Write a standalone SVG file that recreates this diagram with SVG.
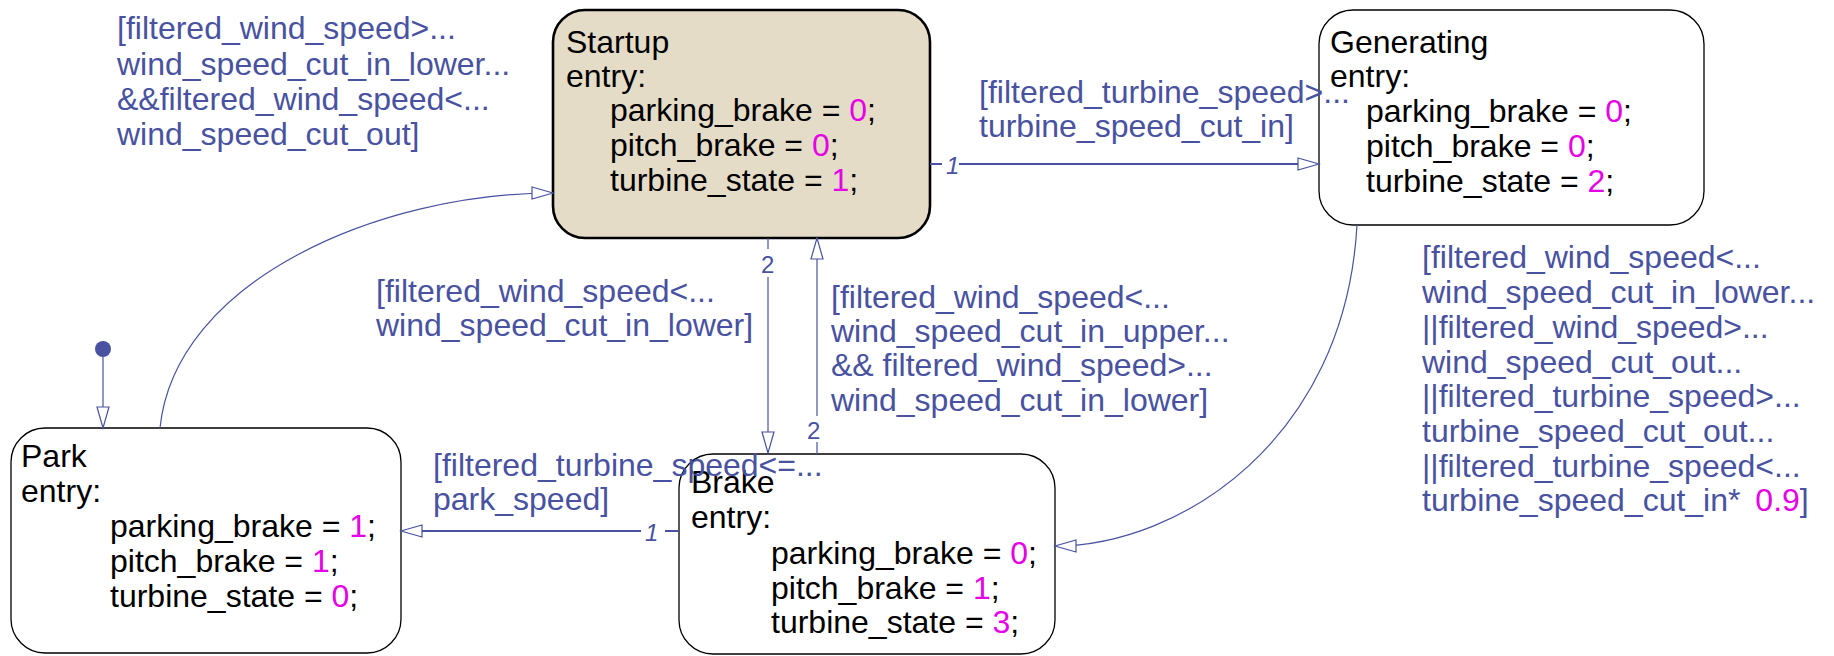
<svg xmlns="http://www.w3.org/2000/svg" width="1834" height="656" viewBox="0 0 1834 656">
<defs>
<style>
text{font-family:"Liberation Sans",Arial,sans-serif;font-size:32px}
.st{fill:#000}
.g{fill:#4852a0}
.m{fill:#e600e6}
.n{fill:#4852a0;font-size:24px}
.ni{fill:#4852a0;font-size:24px;font-style:italic}
.box{fill:#fff;stroke:#000;stroke-width:1.3}
.c{fill:none;stroke:#4852a0;stroke-width:1.2}
.ch{fill:none;stroke:#4852a0;stroke-width:2}
</style>
<marker id="ah" markerUnits="userSpaceOnUse" markerWidth="24" markerHeight="16" refX="22" refY="7" orient="auto">
<path d="M1,1 L22,7 L1,13 Z" fill="#fff" stroke="#4852a0" stroke-width="1.2"/>
</marker>
</defs>
<rect width="1834" height="656" fill="#fff"/>

<g id="startup">
<rect x="553" y="10" width="377" height="228" rx="32" fill="#e5dcc8" stroke="#000" stroke-width="2.6"/>
<text class="st" x="566" y="53">Startup</text>
<text class="st" x="566" y="87">entry:</text>
<text class="st" x="610" y="121">parking_brake = <tspan class="m">0</tspan>;</text>
<text class="st" x="610" y="156">pitch_brake = <tspan class="m">0</tspan>;</text>
<text class="st" x="610" y="191">turbine_state = <tspan class="m">1</tspan>;</text>
</g>

<g id="generating">
<rect class="box" x="1319" y="10" width="385" height="215" rx="34"/>
<text class="st" x="1330" y="53">Generating</text>
<text class="st" x="1330" y="87">entry:</text>
<text class="st" x="1366" y="122">parking_brake = <tspan class="m">0</tspan>;</text>
<text class="st" x="1366" y="157">pitch_brake = <tspan class="m">0</tspan>;</text>
<text class="st" x="1366" y="192">turbine_state = <tspan class="m">2</tspan>;</text>
</g>

<g id="park">
<rect class="box" x="11" y="428" width="390" height="225" rx="34"/>
<text class="st" x="21" y="467">Park</text>
<text class="st" x="21" y="502">entry:</text>
<text class="st" x="110" y="537">parking_brake = <tspan class="m">1</tspan>;</text>
<text class="st" x="110" y="572">pitch_brake = <tspan class="m">1</tspan>;</text>
<text class="st" x="110" y="607">turbine_state = <tspan class="m">0</tspan>;</text>
</g>

<g id="brake">
<rect class="box" x="679" y="454" width="376" height="200" rx="34"/>
<text class="st" x="691" y="493">Brake</text>
<text class="st" x="691" y="528">entry:</text>
<text class="st" x="771" y="564">parking_brake = <tspan class="m">0</tspan>;</text>
<text class="st" x="771" y="599">pitch_brake = <tspan class="m">1</tspan>;</text>
<text class="st" x="771" y="633">turbine_state = <tspan class="m">3</tspan>;</text>
</g>

<g id="connectors">
<circle cx="103" cy="349" r="8" fill="#4852a0"/>
<path class="c" d="M103,357 L103,428" marker-end="url(#ah)"/>
<path class="c" d="M160,428 C175,280 380,193 553,193" marker-end="url(#ah)"/>
<path class="ch" d="M930,164 L942,164"/>
<path class="ch" d="M959,164 L1319,164" marker-end="url(#ah)"/>
<text class="ni" x="946" y="174">1</text>
<path class="c" d="M768,238 L768,249"/>
<path class="c" d="M768,277 L768,453" marker-end="url(#ah)"/>
<text class="n" x="761" y="273">2</text>
<path class="c" d="M817,454 L817,442"/>
<path class="c" d="M817,416 L817,238" marker-end="url(#ah)"/>
<text class="n" x="807" y="439">2</text>
<path class="c" d="M1357,225 C1345,440 1180,546 1055,546" marker-end="url(#ah)"/>
<path class="ch" d="M679,531 L665,531"/>
<path class="ch" d="M641,531 L401,531" marker-end="url(#ah)"/>
<text class="ni" x="645" y="541">1</text>
</g>

<g id="labels">
<text class="g" x="117" y="39">[filtered_wind_speed&gt;...</text>
<text class="g" x="117" y="75">wind_speed_cut_in_lower...</text>
<text class="g" x="117" y="110">&amp;&amp;filtered_wind_speed&lt;...</text>
<text class="g" x="117" y="145">wind_speed_cut_out]</text>

<text class="g" x="979" y="103">[filtered_turbine_speed&gt;...</text>
<text class="g" x="979" y="137">turbine_speed_cut_in]</text>

<text class="g" x="376" y="302">[filtered_wind_speed&lt;...</text>
<text class="g" x="376" y="336">wind_speed_cut_in_lower]</text>

<text class="g" x="831" y="308">[filtered_wind_speed&lt;...</text>
<text class="g" x="831" y="342">wind_speed_cut_in_upper...</text>
<text class="g" x="831" y="376">&amp;&amp; filtered_wind_speed&gt;...</text>
<text class="g" x="831" y="411">wind_speed_cut_in_lower]</text>

<text class="g" x="1422" y="268">[filtered_wind_speed&lt;...</text>
<text class="g" x="1422" y="303">wind_speed_cut_in_lower...</text>
<text class="g" x="1422" y="338">||filtered_wind_speed&gt;...</text>
<text class="g" x="1422" y="373">wind_speed_cut_out...</text>
<text class="g" x="1422" y="407">||filtered_turbine_speed&gt;...</text>
<text class="g" x="1422" y="442">turbine_speed_cut_out...</text>
<text class="g" x="1422" y="477">||filtered_turbine_speed&lt;...</text>
<text class="g" x="1422" y="511">turbine_speed_cut_in* <tspan class="m" dx="6">0.9</tspan>]</text>

<text class="g" x="433" y="476">[filtered_turbine_speed&lt;=...</text>
<text class="g" x="433" y="510">park_speed]</text>
</g>
</svg>
